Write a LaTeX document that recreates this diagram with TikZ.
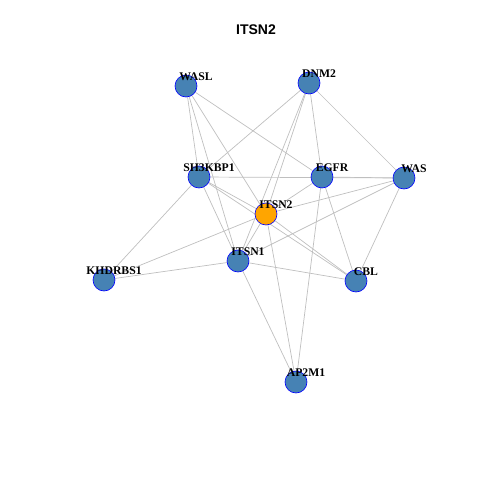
\documentclass[tikz,border=0pt]{standalone}
\usepackage{fontspec}
\setmainfont{Liberation Serif}
\newfontfamily\titlefont{Liberation Sans}
\usepackage{xcolor}
\usetikzlibrary{backgrounds}
\definecolor{steel}{HTML}{4682B4}
\definecolor{hubcol}{HTML}{FFA500}

\begin{document}
\begin{tikzpicture}[x=1pt, y=-1pt]
        \tikzstyle{vertex} = [circle, minimum size=22pt, inner sep=0pt, draw=blue, line width=0.6pt, fill=steel]
        \tikzstyle{hub} = [vertex, fill=hubcol]
        \tikzstyle{edge} = [draw=gray!50, line width=0.7pt]
        \tikzstyle{tag} = [font=\bfseries\fontsize{11.7}{12}\selectfont, inner sep=0pt, xshift=10pt, yshift=9pt]

        \useasboundingbox (0,0) rectangle (480,480);

        % Title
        \node (title) at (256,30) {\titlefont\bfseries\fontsize{14}{16}\selectfont ITSN2};

        % Proteins
        \node (wasl) [vertex, label={[tag]center:WASL}] at (186,86) {};
        \node (dnm2) [vertex, label={[tag]center:DNM2}] at (309,83) {};
        \node (sh3kbp1) [vertex, label={[tag]center:SH3KBP1}] at (199,177) {};
        \node (egfr) [vertex, label={[tag]center:EGFR}] at (322,177) {};
        \node (was) [vertex, label={[tag]center:WAS}] at (404,178) {};
        \node (itsn1) [vertex, label={[tag]center:ITSN1}] at (238,261) {};
        \node (khdrbs1) [vertex, label={[tag]center:KHDRBS1}] at (104,280) {};
        \node (cbl) [vertex, label={[tag]center:CBL}] at (356,281) {};
        \node (ap2m1) [vertex, label={[tag]center:AP2M1}] at (296,382) {};

        % Query protein
        \node (itsn2) [hub, label={[tag]center:ITSN2}] at (266,214) {};

        % Interactions
        \begin{scope}[on background layer]
        \draw [edge] (wasl) -- (sh3kbp1);
        \draw [edge] (wasl) -- (itsn1);
        \draw [edge] (wasl) -- (itsn2);
        \draw [edge] (wasl) -- (egfr);
        \draw [edge] (dnm2) -- (sh3kbp1);
        \draw [edge] (dnm2) -- (itsn2);
        \draw [edge] (dnm2) -- (itsn1);
        \draw [edge] (dnm2) -- (egfr);
        \draw [edge] (dnm2) -- (was);
        \draw [edge] (sh3kbp1) -- (itsn2);
        \draw [edge] (sh3kbp1) -- (cbl);
        \draw [edge] (sh3kbp1) -- (itsn1);
        \draw [edge] (sh3kbp1) -- (khdrbs1);
        \draw [edge] (sh3kbp1) -- (was);
        \draw [edge] (egfr) -- (itsn2);
        \draw [edge] (egfr) -- (was);
        \draw [edge] (egfr) -- (cbl);
        \draw [edge] (egfr) -- (ap2m1);
        \draw [edge] (was) -- (itsn2);
        \draw [edge] (was) -- (itsn1);
        \draw [edge] (was) -- (cbl);
        \draw [edge] (itsn2) -- (itsn1);
        \draw [edge] (itsn2) -- (khdrbs1);
        \draw [edge] (itsn2) -- (cbl);
        \draw [edge] (itsn2) -- (ap2m1);
        \draw [edge] (itsn1) -- (khdrbs1);
        \draw [edge] (itsn1) -- (cbl);
        \draw [edge] (itsn1) -- (ap2m1);
        \end{scope}
    \end{tikzpicture}
\end{document}
